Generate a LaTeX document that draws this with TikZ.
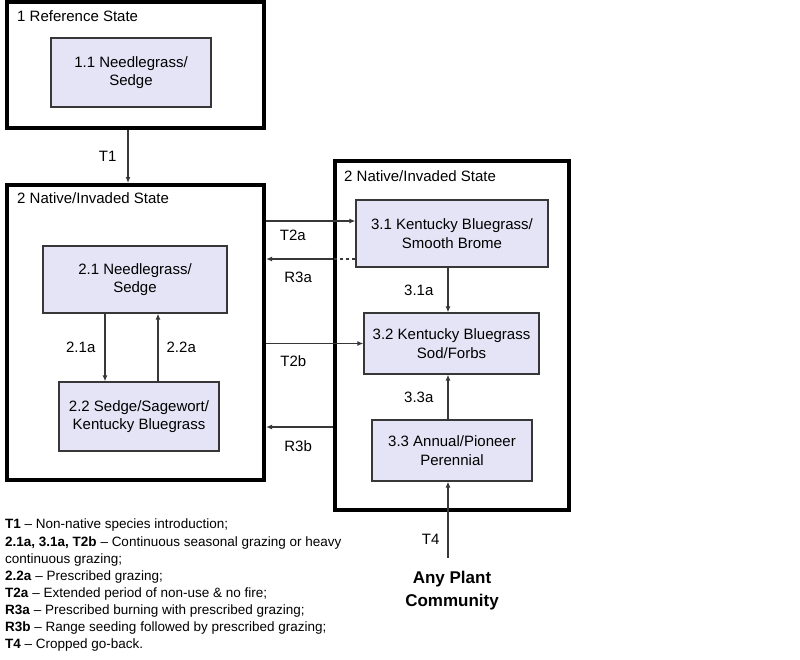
\documentclass[tikz,border=0pt]{standalone}
\usepackage{fontspec}
\setmainfont{Liberation Sans}
\usepackage{xcolor}
\usepackage{tikz}
\usetikzlibrary{arrows.meta}
\definecolor{statefill}{RGB}{228,228,246}
\definecolor{linegray}{RGB}{55,55,55}
\tikzset{
	-{Latex[length=6pt,width=5pt]},semithick,
	frame/.style ={rectangle, draw, line width=4pt, inner sep=0pt},
	state/.style ={rectangle, draw=linegray, line width=1.2pt, fill=statefill, align=center, font=\fontsize{15}{18.5}\selectfont},
	flow/.style = {draw=linegray, line width=1.3pt},
	el/.style = {inner sep=3pt, font=\fontsize{15}{17}\selectfont},
	title/.style = {anchor=west, inner sep=0pt, font=\fontsize{15}{17}\selectfont},
	legend/.style = {anchor=north west, align=left, inner sep=0pt, font=\fontsize{13.5}{17.1}\selectfont},
	community/.style = {align=center, inner sep=0pt, font=\bfseries\fontsize{17}{23}\selectfont}
}

\begin{document}
\begin{tikzpicture}[x=1pt,y=-1pt]
    \useasboundingbox (0,0) rectangle (800,659);
    % state frames
    \node[frame, minimum width=257pt, minimum height=126pt] (ref) at (135.5,65) {};
    \node[frame, minimum width=257pt, minimum height=295pt] (nat) at (135.5,332.5) {};
    \node[frame, minimum width=234pt, minimum height=349pt] (inv) at (452,335.5) {};
    \node[title] at ([shift={(12pt,-16pt)}]ref.north west) {1 Reference State};
    \node[title] at ([shift={(12pt,-15pt)}]nat.north west) {2 Native/Invaded State};
    \node[title] at ([shift={(11pt,-17pt)}]inv.north west) {2 Native/Invaded State};

    % plant communities
    \node[state, minimum width=160pt, minimum height=69pt] (s11) at (131,72.5) {1.1 Needlegrass/\\Sedge};
    \node[state, minimum width=184pt, minimum height=67pt] (s21) at (135,279.5) {2.1 Needlegrass/\\Sedge};
    \node[state, minimum width=160pt, minimum height=69pt] (s22) at (139,416.5) {2.2 Sedge/Sagewort/\\Kentucky Bluegrass};
    \node[state, minimum width=192pt, minimum height=67pt] (s31) at (452,233.5) {3.1 Kentucky Bluegrass/\\Smooth Brome};
    \node[state, minimum width=175pt, minimum height=61pt] (s32) at (451.5,343.5) {3.2 Kentucky Bluegrass\\Sod/Forbs};
    \node[state, minimum width=160pt, minimum height=61pt] (s33) at (452,450.5) {3.3 Annual/Pioneer\\Perennial};
    \node[community] (apc) at (452,591) {Any Plant\\Community};
    \coordinate (t4) at (448,558);

    \path ([xshift=-3pt]s11.south |- ref.south) edge[flow] node[el, left=8pt] {T1} ([xshift=-3pt]s11.south |- nat.north);
    \path ([xshift=-30pt]s21.south) edge[flow] node[el, left=6pt] {2.1a} ([xshift=-30pt]s21.south |- s22.north);
    \path ([xshift=23pt]s21.south |- s22.north) edge[flow] node[el, right=5pt] {2.2a} ([xshift=23pt]s21.south);
    \path ([xshift=-4pt]s31.south) edge[flow] node[el, left=11pt] {3.1a} ([xshift=-4pt]s31.south |- s32.north);
    \path ([xshift=-4pt]s33.north) edge[flow] node[el, left=11pt] {3.3a} ([xshift=-4pt]s33.north |- s32.south);
    \path (t4) edge[flow] node[el, left=5pt, pos=0.25] {T4} (t4 |- s33.south);

    \path ([yshift=12.5pt]s31.west -| nat.east) edge[flow] node[el, below=5.6pt, pos=0.3] {T2a} ([yshift=12.5pt]s31.west);
    \draw[flow, -, dashed] ([yshift=-25.5pt]s31.west) -- ([yshift=-25.5pt]s31.west -| inv.west) coordinate (r3a);
    \path (r3a) edge[flow] node[el, below=9.6pt, pos=0.52] {R3a} (r3a -| nat.east);
    \path (s32.west -| nat.east) edge[flow] node[el, below=8.6pt, pos=0.28] {T2b} (s32.west);
    \path ([yshift=23.5pt]s33.west -| inv.west) edge[flow] node[el, below=9.6pt, pos=0.52] {R3b} ([yshift=23.5pt]s33.west -| nat.east);

    % key
    \node[legend] (key) at (5,519) {\textbf{T1} -- Non-native species introduction;\\
        \textbf{2.1a, 3.1a, T2b} -- Continuous seasonal grazing or heavy\\
        continuous grazing;\\
        \textbf{2.2a} -- Prescribed grazing;\\
        \textbf{T2a} -- Extended period of non-use \& no fire;\\
        \textbf{R3a} -- Prescribed burning with prescribed grazing;\\
        \textbf{R3b} -- Range seeding followed by prescribed grazing;\\
        \textbf{T4} -- Cropped go-back.};
\end{tikzpicture}
\end{document}
